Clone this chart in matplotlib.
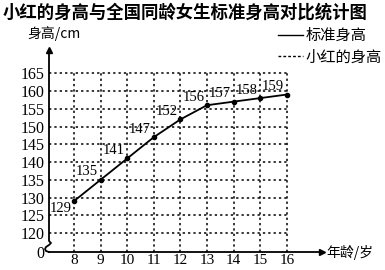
import matplotlib.pyplot as plt
from matplotlib.lines import Line2D

# Dane
ages = [8, 9, 10, 11, 12, 13, 14, 15, 16]
standard = [129, 135, 141, 147, 152, 156, 157, 158, 159]
y_ticks = [120, 125, 130, 135, 140, 145, 150, 155, 160, 165]
title = "小红的身高与全国同龄女生标准身高对比统计图"
y_label = "身高/cm"
x_label = "年龄/岁"
legend_labels = ["标准身高", "小红的身高"]

serif = "Liberation Serif"
cjk = ["Noto Sans CJK SC", "DejaVu Sans"]

fig = plt.figure(figsize=(3.85, 2.7), dpi=100)
W, H = 385, 270
# oś: lewa krawędź 49 px, strzałka x do 322 px, oś x na 252 px, strzałka y do 50 px
ax = fig.add_axes([49 / W, 18 / H, (322 - 49) / W, (252 - 50) / H])
px_x = 26.6   # px na rok
px_y = 3.56   # px na cm
y0 = 120 - 19 / px_y
ax.set_xlim(8 - 25 / px_x, 8 + (322 - 74) / px_x)
ax.set_ylim(y0, 165 + 23.3 / px_y)
for s in ax.spines.values():
    s.set_visible(False)

# siatka kropkowana
ax.vlines(ages, y0, 165.3, colors="black", linestyles=(0, (1.5, 2)), linewidth=1.1)
ax.hlines(y_ticks, ax.get_xlim()[0], ages[-1], colors="black",
          linestyles=(0, (1.5, 2)), linewidth=1.1)

# osie ze strzałkami
aw, ah = 322 - 49, 252 - 50
ax.plot([0, 1], [0, 0], color="black", lw=1.3, transform=ax.transAxes, clip_on=False)
ax.plot([1], [0], marker=">", color="black", ms=4, transform=ax.transAxes, clip_on=False)
brk = [(0, 202), (0, 11), (2, 9), (0, 7), (-3, 5), (-4, 3), (-3, 1), (0, 0)]
ax.plot([p[0] / aw for p in brk], [p[1] / ah for p in brk], color="black", lw=1.3,
        transform=ax.transAxes, clip_on=False)
ax.plot([0], [1], marker="^", color="black", ms=4, transform=ax.transAxes, clip_on=False)

# linia standardowa
ax.plot(ages, standard, color="black", lw=1.3, marker="o", ms=3, zorder=3)
for a, v in zip(ages, standard):
    if a == ages[0]:
        ax.annotate(str(v), (a, v), xytext=(-2, -1), textcoords="offset points",
                    ha="right", va="top", fontsize=10.5, family=serif)
    else:
        ax.annotate(str(v), (a, v), xytext=(-2, 1), textcoords="offset points",
                    ha="right", va="bottom", fontsize=10.5, family=serif)

ax.set_xticks(ages)
ax.set_xticklabels([str(a) for a in ages], family=serif, fontsize=11)
ax.set_yticks([y0] + y_ticks)
ax.set_yticklabels(["0"] + [str(t) for t in y_ticks], family=serif, fontsize=11.5)
ax.tick_params(axis="y", length=0, pad=3)
ax.tick_params(axis="x", length=0, pad=1.5)

fig.text(3 / W, 1 - 13 / H, title, family=cjk, fontsize=12.5, fontweight="bold",
         va="center", ha="left")
fig.text(27 / W, 1 - 34 / H, y_label, family=cjk, fontsize=10, va="center", ha="left")
fig.text(326 / W, 18 / H, x_label, family=cjk, fontsize=10, va="center", ha="left")

handles = [Line2D([], [], color="black", lw=1),
           Line2D([], [], color="black", lw=1, linestyle=(0, (2, 1.5)))]
fig.legend(handles, legend_labels, loc="upper right", bbox_to_anchor=(1.0, 1 - 24 / H),
           frameon=False, handlelength=1.6, handletextpad=0.2, labelspacing=0.3,
           borderpad=0, borderaxespad=0.2, prop={"family": cjk, "size": 11})

fig.savefig("out.png", dpi=100)
